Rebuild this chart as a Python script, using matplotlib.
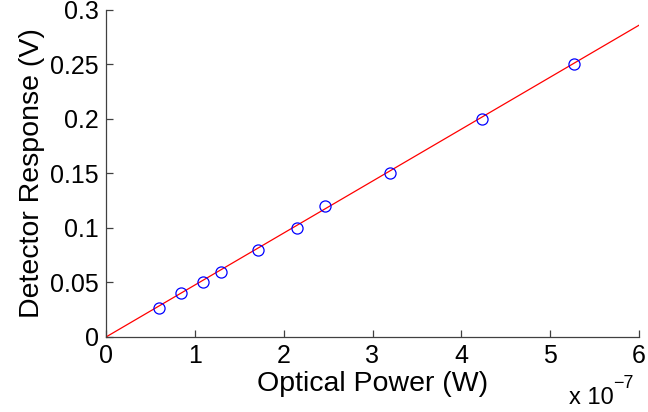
import matplotlib
matplotlib.use("Agg")
import matplotlib.pyplot as plt

plt.rcParams['font.family'] = ['Liberation Sans', 'DejaVu Sans']

# measured points
power = [0.6e-7, 0.84e-7, 1.09e-7, 1.29e-7, 1.71e-7, 2.15e-7, 2.47e-7, 3.2e-7, 4.23e-7, 5.27e-7]
response = [0.027, 0.040, 0.050, 0.060, 0.080, 0.100, 0.120, 0.150, 0.200, 0.250]

# linear fit line end points
fit_x = [0, 6e-7]
fit_y = [0, 0.2856]

fig = plt.figure(figsize=(6.48, 4.12), dpi=100)
ax = fig.add_axes([106/648, 1 - 337/412, 533/648, 327.5/412])

ax.plot(fit_x, fit_y, color='red', lw=0.9)
ax.plot(power, response, 'o', mfc='none', mec='blue', ms=8, mew=0.9)

ax.set_xlim(0, 6e-7)
ax.set_ylim(0, 0.3)
ax.set_xticks([i * 1e-7 for i in range(7)])
ax.set_xticklabels([str(i) for i in range(7)])
ax.set_yticks([0, 0.05, 0.1, 0.15, 0.2, 0.25, 0.3])
ax.set_yticklabels(['0', '0.05', '0.1', '0.15', '0.2', '0.25', '0.3'])

for s in ['top', 'right']:
    ax.spines[s].set_visible(False)
for s in ['left', 'bottom']:
    ax.spines[s].set_color('#404040')
    ax.spines[s].set_linewidth(0.9)
ax.tick_params(direction='in', length=5, width=0.9, color='#404040', labelsize=18, pad=5)

ax.set_xlabel('Optical Power (W)', fontsize=20.5, labelpad=2)
ax.set_ylabel('Detector Response (V)', fontsize=20.5, labelpad=4)

# exponent label, MATLAB style
ax.text(0.952, -0.205, 'x 10', transform=ax.transAxes, ha='right', va='baseline', fontsize=17)
ax.text(0.952, -0.155, '\u22127', transform=ax.transAxes, ha='left', va='baseline', fontsize=13)

fig.savefig('out.png', dpi=100)
